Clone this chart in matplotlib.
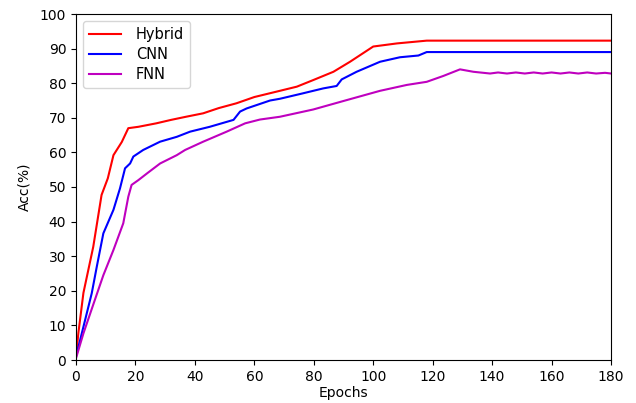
import matplotlib
matplotlib.use("Agg")
import matplotlib.pyplot as plt

hybrid_epochs = [0, 0.8, 2.5, 5.8, 8.6, 10.7, 12.6, 15.4, 17.6, 21, 27, 32, 37, 42.8, 48, 54, 60, 68.6, 74.3, 79.8, 86.6, 92.2, 100, 108, 118, 150, 180]
hybrid_acc = [1, 7.8, 19.4, 32.7, 47.7, 52.5, 59.2, 63, 67, 67.4, 68.4, 69.4, 70.3, 71.3, 72.8, 74.2, 76, 77.8, 79, 80.9, 83.3, 86.2, 90.6, 91.5, 92.3, 92.3, 92.3]

cnn_epochs = [0, 2.5, 5.3, 7, 9.2, 12.6, 14.8, 16.5, 18.2, 19.3, 22.6, 28.3, 33.9, 38.4, 45, 53, 55.2, 57.4, 65.3, 68.6, 76, 83.2, 87.7, 89.4, 94.4, 102.3, 109, 115.2, 118, 150, 180]
cnn_acc = [1, 9.6, 19.3, 27, 36.6, 43.4, 49.6, 55.4, 56.8, 58.8, 60.7, 63.1, 64.5, 66, 67.4, 69.4, 71.8, 72.7, 75, 75.5, 77, 78.5, 79.2, 81.1, 83.3, 86.2, 87.5, 88, 89, 89, 89]

fnn_epochs = [0, 2.5, 5.8, 9.2, 12.6, 15.9, 17.6, 18.7, 21, 24, 28.3, 33.9, 36.7, 42.8, 50.7, 56.9, 61.9, 68.6, 79.8, 91, 102.3, 111.3, 118, 123.6, 129.2, 133.7, 139.3,
              142, 145, 148, 151, 154, 157, 160, 163, 166, 169, 172, 175, 178, 180]
fnn_acc = [0.5, 7.7, 16, 24.5, 31.8, 39.5, 47.2, 50.6, 52, 54, 56.8, 59.2, 60.7, 63.1, 66, 68.4, 69.5, 70.3, 72.4, 75.1, 77.8, 79.5, 80.4, 82.1, 84, 83.3, 82.8,
           83.1, 82.8, 83.1, 82.8, 83.1, 82.8, 83.1, 82.8, 83.1, 82.8, 83.1, 82.8, 83.0, 82.8]

fig = plt.figure(figsize=(6.36, 4.03), dpi=100)
ax = fig.add_axes([76/636, 1 - 360/403, 535/636, 346/403])
ax.plot(hybrid_epochs, hybrid_acc, color='red', lw=1.5, label='Hybrid')
ax.plot(cnn_epochs, cnn_acc, color='blue', lw=1.5, label='CNN')
ax.plot(fnn_epochs, fnn_acc, color='m', lw=1.5, label='FNN')
ax.set_xlim(0, 180)
ax.set_ylim(0, 100)
ax.set_xticks(range(0, 181, 20))
ax.set_yticks(range(0, 101, 10))
ax.set_xlabel('Epochs', labelpad=2)
ax.set_ylabel('Acc(%)', labelpad=6)
ax.legend(loc='upper left', handlelength=2.2, handletextpad=1.0, labelspacing=0.35, fontsize=10.5)
fig.savefig('out.png', dpi=100)
